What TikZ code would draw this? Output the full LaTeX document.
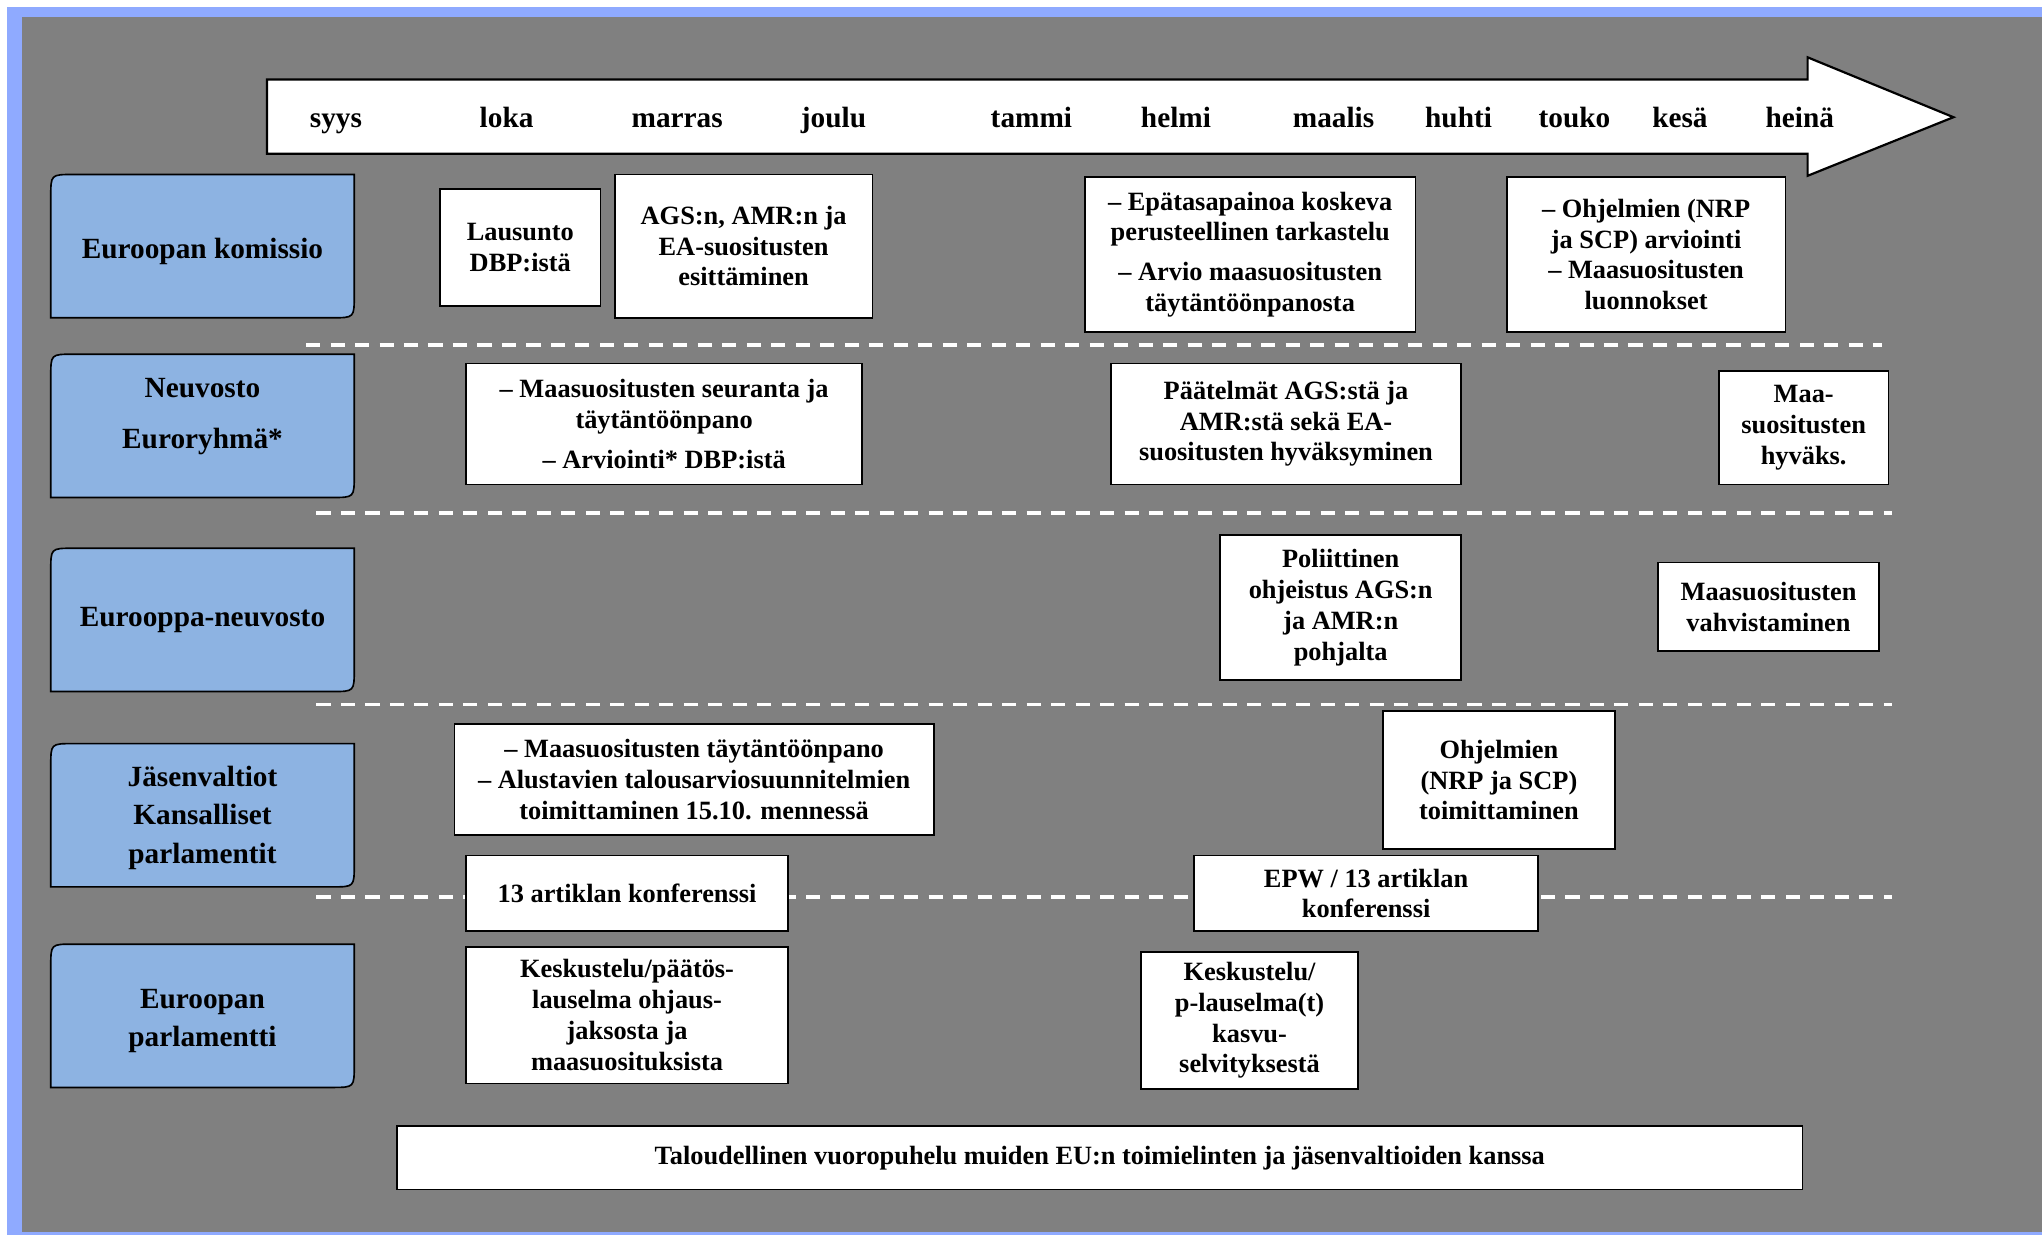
\documentclass[tikz,border=0pt]{standalone}
\usepackage{fontspec}
\setmainfont{Liberation Serif}
\definecolor{framebl}{HTML}{8FAAFF}
\definecolor{lanebl}{HTML}{8DB3E2}
\definecolor{bggray}{HTML}{808080}

\begin{document}
\begin{tikzpicture}[x=0.025cm, y=-0.025cm,
  lane/.style={draw=black, line width=0.9pt, fill=lanebl},
  lanetxt/.style={align=center, font=\fontsize{16}{21}\selectfont\bfseries},
  wbox/.style={draw=black, line width=0.9pt, fill=white, inner sep=0pt, align=center, font=\fontsize{14.4}{16.8}\selectfont\bfseries},
  sz/.style 2 args={minimum width=#1*0.025cm, minimum height=#2*0.025cm},
  month/.style={anchor=base, font=\fontsize{16}{19}\selectfont\bfseries},
  sep/.style={draw=white, line width=2pt, dash pattern=on 0.27cm off 0.2cm}]

\useasboundingbox (0,0) rectangle (1568,948);
\fill[white] (0,0) rectangle (1568,948);
\fill[framebl] (5.4,5.4) rectangle (1568,948);
\fill[bggray] (16.9,13) rectangle (1568,946);

% aikajana
\draw[fill=white, line width=1.2pt, line join=miter] (205,61) -- (1388,61) -- (1388,44) -- (1500,90) -- (1388,135) -- (1388,118) -- (205,118) -- cycle;
\foreach \x/\m [count=\i] in {258/syys, 389/loka, 520/marras, 640/joulu, 792/tammi, 903/helmi, 1024/maalis, 1120/huhti, 1209/touko, 1290/kesä, 1382/heinä}
  \node[month] (m\i) at (\x,98) {\m};

% toimijat
\foreach \t/\dy/\nm/\txt in {134/59/kom/{Euroopan komissio}, 272/48/neu/{Neuvosto\\[6.5pt]Euroryhmä*}, 421/55/eun/{Eurooppa-neuvosto}, 571/57/jas/{Jäsenvaltiot\\Kansalliset\\parlamentit}, 725/59/ep/{Euroopan\\parlamentti}}
{
  \draw[lane] (39,\t+110) -- (39,\t+17) .. controls (39,\t) .. (56,\t) -- (272,\t) -- (272,\t+93) .. controls (272,\t+110) .. (255,\t+110) -- cycle;
  \node[lanetxt] (\nm) at (155.5,\t+\dy) {\txt};
}

% erottimet
\draw[sep] (235,265) -- (1445,265);
\draw[sep] (243,394) -- (1453,394);
\draw[sep] (243,541) -- (1453,541);
\draw[sep] (243,689) -- (1453,689);

\node[wbox, sz={123}{90}] (lausunto) at (399.5,190) {Lausunto\\DBP:istä};
\node[wbox, sz={198}{110}] (ags) at (571,189) {AGS:n, AMR:n ja\\EA-suositusten\\esittäminen};
\node[wbox, sz={254}{119}] (epa) at (960,195.5) {– Epätasapainoa koskeva\\perusteellinen tarkastelu\\[5pt]– Arvio maasuositusten\\täytäntöönpanosta};
\node[wbox, sz={214}{119}] (ohj) at (1264,195.5) {– Ohjelmien (NRP\\ja SCP) arviointi\\– Maasuositusten\\luonnokset};
\node[wbox, sz={304}{93}] (seur) at (510,325.5) {– Maasuositusten seuranta ja\\täytäntöönpano\\[5pt]– Arviointi* DBP:istä};
\node[wbox, sz={269}{93}] (paat) at (987.5,325.5) {Päätelmät AGS:stä ja\\AMR:stä sekä EA-\\suositusten hyväksyminen};
\node[wbox, sz={130}{87}] (hyv) at (1385,328.5) {Maa-\\suositusten\\hyväks.};
\node[wbox, sz={185}{111}] (pol) at (1029.5,466.5) {Poliittinen\\ohjeistus AGS:n\\ja AMR:n\\pohjalta};
\node[wbox, sz={170}{68}] (vahv) at (1358,466) {Maasuositusten\\vahvistaminen};
\node[wbox, sz={368}{85}] (tayt) at (533,598.5) {– Maasuositusten täytäntöönpano\\– Alustavien talousarviosuunnitelmien\\toimittaminen 15.10. mennessä};
\node[wbox, sz={178}{106}] (toim) at (1151,599) {Ohjelmien\\(NRP ja SCP)\\toimittaminen};
\node[wbox, sz={247}{58}] (konf) at (481.5,686) {13 artiklan konferenssi};
\node[wbox, sz={264}{58}] (epw) at (1049,686) {EPW / 13 artiklan\\konferenssi};
\node[wbox, sz={247}{105}] (kesk) at (481.5,779.5) {Keskustelu/päätös-\\lauselma ohjaus-\\jaksosta ja\\maasuosituksista};
\node[wbox, sz={167}{105}] (kasvu) at (959.5,783.5) {Keskustelu/\\p-lauselma(t)\\kasvu-\\selvityksestä};
\node[wbox, sz={1079}{49}] (dial) at (844.5,889) {Taloudellinen vuoropuhelu muiden EU:n toimielinten ja jäsenvaltioiden kanssa};
\end{tikzpicture}
\end{document}
